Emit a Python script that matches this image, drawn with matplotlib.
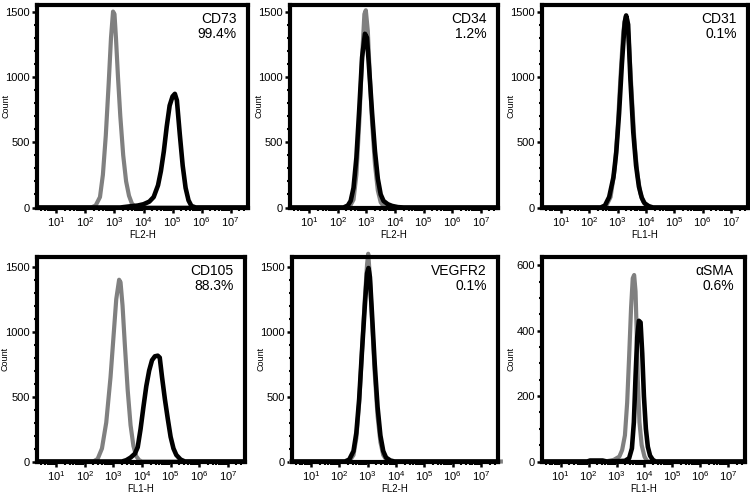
import numpy as np
import matplotlib
matplotlib.use("Agg")
import matplotlib.pyplot as plt
from matplotlib.ticker import FixedLocator, LogLocator, MultipleLocator, NullFormatter

plt.rcParams['font.family'] = ['Liberation Sans', 'DejaVu Sans']
plt.rcParams['mathtext.fontset'] = 'custom'
plt.rcParams['mathtext.rm'] = 'Liberation Sans'
plt.rcParams['mathtext.it'] = 'Liberation Sans'

# ---- data: log10 fluorescence vs count ----
markers = ["CD73", "CD34", "CD31", "CD105", "VEGFR2", "\u03b1SMA"]
percents = ["99.4%", "1.2%", "0.1%", "88.3%", "0.1%", "0.6%"]
channels = ["FL2-H", "FL2-H", "FL1-H", "FL1-H", "FL2-H", "FL1-H"]
ymaxes = [1550, 1550, 1550, 1575, 1575, 625]
ymajor = [500, 500, 500, 500, 500, 200]
yminor = [100, 100, 100, 100, 100, 50]

cd73_iso_x = [0.3, 2.2, 2.35, 2.5, 2.6, 2.7, 2.8, 2.88, 2.95, 3.0, 3.05, 3.12, 3.2, 3.3, 3.4, 3.5, 3.6, 3.7, 3.85, 7.7]
cd73_iso_y = [0, 0, 15, 80, 250, 550, 950, 1300, 1500, 1480, 1300, 1000, 700, 400, 200, 90, 30, 8, 0, 0]
cd73_x = [0.3, 3.2, 3.5, 3.8, 4.0, 4.2, 4.35, 4.5, 4.6, 4.7, 4.8, 4.9, 5.0, 5.08, 5.15, 5.25, 5.35, 5.45, 5.55, 5.65, 5.8, 7.7]
cd73_y = [0, 0, 8, 15, 25, 45, 80, 170, 280, 430, 620, 780, 850, 870, 820, 560, 320, 150, 55, 12, 0, 0]

cd34_iso_x = [0.3, 2.4, 2.55, 2.65, 2.75, 2.85, 2.93, 2.98, 3.05, 3.12, 3.2, 3.3, 3.4, 3.5, 3.6, 3.7, 7.7]
cd34_iso_y = [0, 0, 60, 250, 650, 1150, 1480, 1510, 1350, 1000, 650, 330, 130, 40, 10, 0, 0]
cd34_x = [0.3, 2.2, 2.35, 2.45, 2.55, 2.65, 2.75, 2.85, 2.95, 3.02, 3.1, 3.2, 3.3, 3.4, 3.5, 3.6, 3.75, 3.9, 4.1, 4.3, 7.7]
cd34_y = [0, 0, 15, 50, 150, 380, 750, 1150, 1330, 1300, 1050, 720, 430, 220, 100, 50, 25, 12, 3, 0, 0]

cd31_iso_x = [0.3, 2.45, 2.6, 2.75, 2.9, 3.0, 3.1, 3.2, 3.28, 3.33, 3.4, 3.5, 3.6, 3.7, 3.8, 3.9, 4.05, 4.2, 7.7]
cd31_iso_y = [0, 0, 15, 80, 300, 600, 1000, 1350, 1460, 1450, 1250, 850, 480, 250, 110, 45, 12, 0, 0]
cd31_x = [0.3, 2.4, 2.55, 2.7, 2.85, 2.95, 3.05, 3.15, 3.25, 3.3, 3.37, 3.45, 3.55, 3.65, 3.75, 3.85, 3.95, 4.1, 4.25, 7.7]
cd31_y = [0, 0, 15, 80, 230, 420, 720, 1100, 1420, 1470, 1400, 980, 580, 320, 160, 75, 32, 10, 0, 0]

cd105_iso_x = [0.3, 2.3, 2.45, 2.6, 2.75, 2.9, 3.0, 3.1, 3.2, 3.25, 3.32, 3.4, 3.5, 3.6, 3.7, 3.8, 3.9, 4.0, 7.7]
cd105_iso_y = [0, 0, 20, 100, 300, 650, 950, 1250, 1400, 1380, 1200, 900, 550, 280, 120, 40, 10, 0, 0]
cd105_x = [0.3, 3.3, 3.45, 3.6, 3.75, 3.85, 3.95, 4.05, 4.15, 4.25, 4.35, 4.45, 4.55, 4.62, 4.7, 4.8, 4.9, 5.0, 5.1, 5.2, 5.35, 5.5, 7.7]
cd105_y = [0, 0, 10, 30, 60, 110, 250, 420, 580, 700, 780, 810, 815, 800, 650, 480, 330, 190, 100, 50, 15, 0, 0]

vegfr2_iso_x = [0.3, 2.35, 2.5, 2.6, 2.7, 2.8, 2.9, 2.98, 3.02, 3.07, 3.15, 3.25, 3.35, 3.45, 3.55, 3.7, 7.7]
vegfr2_iso_y = [0, 0, 50, 180, 450, 850, 1250, 1520, 1600, 1450, 1100, 680, 350, 150, 50, 0, 0]
vegfr2_x = [0.3, 2.2, 2.35, 2.5, 2.6, 2.7, 2.8, 2.9, 2.98, 3.03, 3.08, 3.15, 3.25, 3.35, 3.45, 3.55, 3.65, 3.8, 3.95, 7.7]
vegfr2_y = [0, 0, 15, 80, 220, 480, 850, 1200, 1450, 1490, 1420, 1150, 750, 420, 200, 80, 30, 8, 0, 0]

asma_iso_x = [0.3, 2.6, 2.9, 3.1, 3.2, 3.3, 3.38, 3.45, 3.52, 3.58, 3.63, 3.68, 3.72, 3.76, 3.82, 3.9, 4.0, 4.1, 7.7]
asma_iso_y = [0, 0, 5, 15, 35, 80, 180, 320, 470, 560, 570, 520, 400, 250, 120, 50, 15, 0, 0]
asma_x = [0.3, 1.95, 2.05, 2.5, 2.65, 3.3, 3.45, 3.55, 3.62, 3.68, 3.74, 3.8, 3.86, 3.92, 3.98, 4.05, 4.12, 4.2, 4.3, 4.4, 7.7]
asma_y = [0, 0, 3, 3, 0, 2, 10, 40, 120, 260, 380, 430, 425, 330, 200, 100, 45, 18, 5, 0, 0]

iso_x = [cd73_iso_x, cd34_iso_x, cd31_iso_x, cd105_iso_x, vegfr2_iso_x, asma_iso_x]
iso_y = [cd73_iso_y, cd34_iso_y, cd31_iso_y, cd105_iso_y, vegfr2_iso_y, asma_iso_y]
smp_x = [cd73_x, cd34_x, cd31_x, cd105_x, vegfr2_x, asma_x]
smp_y = [cd73_y, cd34_y, cd31_y, cd105_y, vegfr2_y, asma_y]

decades = [1, 2, 3, 4, 5, 6, 7]

# ---- layout (pixel boxes: left, top, right, bottom) ----
W, H = 750, 496
boxes = [(37, 5, 248, 207.5), (290, 5, 498, 207.5), (542, 5, 748, 207.5),
         (37, 257, 245, 461.5), (292, 257, 498, 461.5), (542, 257, 745, 461.5)]

fig = plt.figure(figsize=(W / 100, H / 100), dpi=100)

for i in range(6):
    l, t, r, b = boxes[i]
    ax = fig.add_axes([l / W, 1 - b / H, (r - l) / W, (b - t) / H])
    ax.set_xscale('log')
    ax.plot(10 ** np.array(iso_x[i]), iso_y[i], color='#808080', lw=3.0,
            solid_joinstyle='round', clip_on=(i != 4), zorder=2)
    ax.plot(10 ** np.array(smp_x[i]), smp_y[i], color='black', lw=3.3,
            solid_joinstyle='round', zorder=3)
    ax.set_xlim(10 ** 0.33, 10 ** 7.6)
    ax.set_ylim(0, ymaxes[i])
    ax.xaxis.set_major_locator(FixedLocator([10.0 ** d for d in decades]))
    ax.set_xticklabels([r'$10^{%d}$' % d for d in decades])
    ax.xaxis.set_minor_locator(LogLocator(base=10, subs=np.arange(2, 10), numticks=20))
    ax.xaxis.set_minor_formatter(NullFormatter())
    ax.yaxis.set_major_locator(MultipleLocator(ymajor[i]))
    ax.yaxis.set_minor_locator(MultipleLocator(yminor[i]))
    for s in ax.spines.values():
        s.set_linewidth(3.0)
    ax.tick_params(axis='both', which='major', direction='out', length=3.5, width=1.8, pad=1.5)
    ax.tick_params(axis='both', which='minor', direction='out', length=2.5, width=1.5)
    ax.tick_params(axis='y', which='major', labelsize=8)
    ax.tick_params(axis='x', which='major', labelsize=8, pad=2)
    ax.set_xlabel(channels[i], fontsize=7, labelpad=1)
    ax.set_ylabel('Count', fontsize=6.5)
    ax.yaxis.set_label_coords(-27.0 / (r - l), 0.5)
    ax.text(0.945, 0.965, markers[i] + "\n" + percents[i], transform=ax.transAxes,
            ha='right', va='top', fontsize=10, linespacing=1.1)

fig.savefig('out.png', dpi=100)
